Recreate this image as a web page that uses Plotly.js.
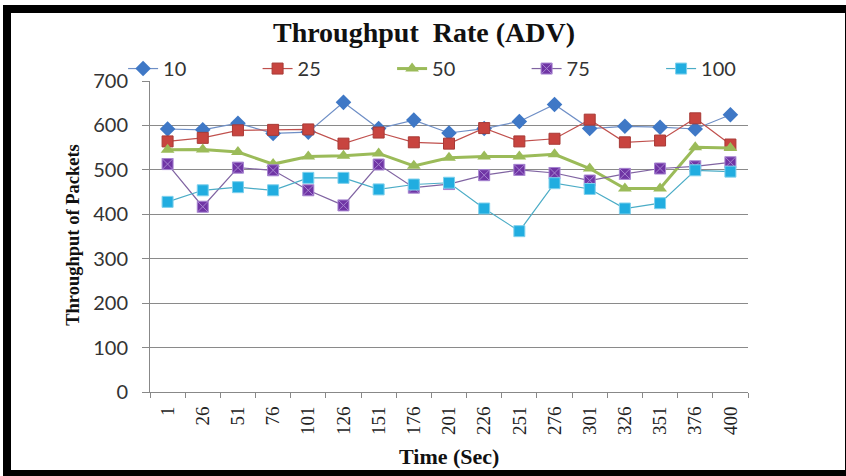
<!DOCTYPE html>
<html>
<head>
<meta charset="utf-8">
<script src="https://cdn.plot.ly/plotly-3.0.1.min.js"></script>
<style>
  html, body { margin: 0; padding: 0; background: #fff; }
  #wrap { position: relative; width: 846px; height: 476px; overflow: hidden; }
  #chart { position: absolute; left: 0; top: 0; width: 846px; height: 476px; }
  .fr { position: absolute; background: #000; }
</style>
</head>
<body>
<div id="wrap">
  <div id="chart"></div>
  <div class="fr" style="left:3px; top:5px; width:843px; height:8px;"></div>
  <div class="fr" style="left:3px; top:5px; width:8px; height:471px;"></div>
  <div class="fr" style="left:3px; top:470px; width:843px; height:6px;"></div>
  <div class="fr" style="left:845px; top:5px; width:1px; height:471px;"></div>
</div>
<script>
const categories = ['1','26','51','76','101','126','151','176','201','226','251','276','301','326','351','376','400'];
const seriesNames = ['10','25','50','75','100'];
const s10  = [592, 590, 605, 582, 585, 652, 593, 612, 583, 593, 609, 647, 593, 598, 596, 592, 624];
const s25  = [564, 572, 589, 590, 591, 559, 584, 562, 559, 594, 564, 570, 613, 562, 566, 616, 557];
const s50  = [545, 546, 540, 513, 530, 532, 537, 509, 527, 530, 530, 535, 503, 458, 458, 551, 549];
const s75  = [513, 417, 505, 499, 454, 420, 512, 460, 468, 488, 500, 493, 476, 491, 503, 508, 517];
const s100 = [428, 454, 461, 454, 482, 482, 456, 467, 471, 413, 362, 470, 457, 413, 425, 499, 496];
const yTicks = [0, 100, 200, 300, 400, 500, 600, 700];

const styles = [
  {line: {color: '#6f8fc6', width: 1.2}, marker: {symbol: 'diamond', size: 12, color: '#3f78c6', line: {color: '#3f78c6', width: 0}}},
  {line: {color: '#c0504d', width: 1.2}, marker: {symbol: 'square', size: 11, color: '#c8443f', line: {color: '#a83a36', width: 1}}},
  {line: {color: '#9bbb59', width: 3}, marker: {symbol: 'triangle-up', size: 12, color: '#9bbb59', line: {color: '#8fb04c', width: 0}}},
  {line: {color: '#8064a2', width: 1.2}, marker: {symbol: 'square-x', size: 11, color: '#7035a5', line: {color: '#a684d0', width: 1}}},
  {line: {color: '#4bacc6', width: 1.2}, marker: {symbol: 'square', size: 11, color: '#21ade0', line: {color: '#7fd0ec', width: 1}}}
];
const allSeries = [s10, s25, s50, s75, s100];

const traces = allSeries.map((vals, i) => ({
  type: 'scatter',
  mode: 'lines+markers',
  name: seriesNames[i],
  x: categories,
  y: vals,
  line: styles[i].line,
  marker: styles[i].marker,
  cliponaxis: false
}));

const layout = {
  width: 846,
  height: 476,
  margin: {l: 150, r: 98, t: 81, b: 84, pad: 0},
  paper_bgcolor: '#ffffff',
  plot_bgcolor: '#ffffff',
  showlegend: true,
  title: {
    text: 'Throughput\u00a0 Rate (ADV)',
    font: {family: 'Liberation Serif, Times New Roman, serif', size: 28, color: '#111', weight: 'bold'},
    x: 424 / 846, xanchor: 'center', xref: 'container',
    y: 1 - 32 / 476, yanchor: 'middle', yref: 'container'
  },
  legend: {
    orientation: 'h',
    x: -0.045, xanchor: 'left',
    y: 1.04, yanchor: 'middle',
    entrywidth: 89.5, entrywidthmode: 'pixels',
    font: {family: 'Lato, Open Sans, sans-serif', size: 20, color: '#333'},
    bgcolor: 'rgba(0,0,0,0)',
    traceorder: 'normal'
  },
  xaxis: {
    type: 'category',
    categoryorder: 'array',
    categoryarray: categories,
    range: [-0.5, categories.length - 0.5],
    showgrid: false,
    showline: true, linecolor: '#888', linewidth: 1,
    ticks: 'outside', tickson: 'boundaries', ticklen: 5, tickcolor: '#888', tickwidth: 1,
    tickangle: -90,
    ticklabelstandoff: 6,
    tickfont: {family: 'Liberation Serif, Times New Roman, serif', size: 19, color: '#222'},
    zeroline: false,
    fixedrange: true
  },
  yaxis: {
    range: [0, 700],
    tickvals: yTicks,
    ticktext: yTicks.map(String),
    showgrid: true, gridcolor: '#8a8a8a', gridwidth: 1,
    showline: true, linecolor: '#888', linewidth: 1,
    ticks: 'outside', ticklen: 7, tickcolor: '#888', tickwidth: 1,
    ticklabelstandoff: 10,
    tickfont: {family: 'Lato, Open Sans, sans-serif', size: 20, color: '#333'},
    zeroline: false,
    fixedrange: true
  },
  annotations: [
    {
      text: 'Throughput of Packets',
      xref: 'paper', yref: 'paper',
      x: -0.129, y: 0.505, xanchor: 'center', yanchor: 'middle',
      textangle: -90, showarrow: false,
      font: {family: 'Liberation Serif, Times New Roman, serif', size: 18.5, color: '#111', weight: 'bold'}
    },
    {
      text: 'Time (Sec)',
      xref: 'paper', yref: 'paper',
      x: 0.5, y: -0.209, xanchor: 'center', yanchor: 'middle',
      showarrow: false,
      font: {family: 'Liberation Serif, Times New Roman, serif', size: 22, color: '#111', weight: 'bold'}
    }
  ]
};

Plotly.newPlot('chart', traces, layout, {displayModeBar: false, staticPlot: true});
</script>
</body>
</html>
